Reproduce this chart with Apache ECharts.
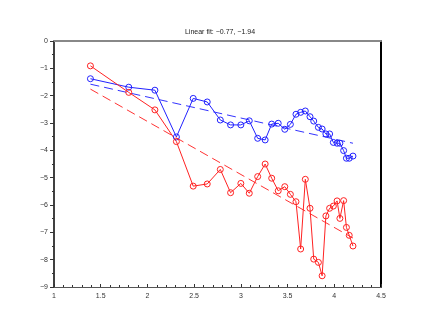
<!DOCTYPE html>
<html>
<head>
<meta charset="utf-8">
<script src="https://cdn.jsdelivr.net/npm/echarts@6/dist/echarts.min.js"></script>
<style>
  html, body { margin: 0; padding: 0; background: #fff; }
  #chart { width: 436px; height: 329px; }
</style>
</head>
<body>
<div id="chart"></div>
<script>
// Shared x values for both series
var xVals = [1.39, 1.80, 2.08, 2.31, 2.49, 2.64, 2.78, 2.89, 3.00, 3.09, 3.18, 3.26,
             3.33, 3.40, 3.47, 3.53, 3.59, 3.64, 3.69, 3.74, 3.78, 3.83, 3.87, 3.91,
             3.95, 3.99, 4.03, 4.06, 4.10, 4.13, 4.16, 4.20];
var blueVals = [-1.38, -1.69, -1.80, -3.51, -2.10, -2.23, -2.89, -3.07, -3.07, -2.92, -3.56, -3.62,
                -3.04, -3.01, -3.23, -3.05, -2.68, -2.61, -2.56, -2.77, -2.93, -3.16, -3.22, -3.40,
                -3.40, -3.71, -3.74, -3.74, -4.01, -4.29, -4.29, -4.21];
var redVals = [-0.91, -1.88, -2.52, -3.68, -5.31, -5.23, -4.70, -5.55, -5.21, -5.57, -4.96, -4.50,
               -5.02, -5.48, -5.33, -5.61, -5.88, -7.61, -5.06, -6.12, -7.98, -8.10, -8.59, -6.40,
               -6.12, -6.04, -5.85, -6.49, -5.84, -6.82, -7.11, -7.50];
// Fitted lines (endpoints)
var fitX = [1.39, 4.20];
var blueFit = [-1.58, -3.74];
var redFit = [-1.76, -7.21];
var titleText = 'Linear fit: \u22120.77, \u22121.94';

function pairs(xs, ys) {
    return xs.map(function (x, i) { return [x, ys[i]]; });
}

var chart = echarts.init(document.getElementById('chart'));

var labelStyle = { color: '#333', fontSize: 7, fontFamily: 'Liberation Sans' };

function lineSeries(ys, color) {
    return {
        type: 'line',
        data: pairs(xVals, ys),
        symbol: 'circle',
        symbolSize: 6,
        lineStyle: { color: color, width: 1 },
        itemStyle: { color: 'rgba(255,255,255,0)', borderColor: color, borderWidth: 1 },
        animation: false,
        z: 3
    };
}

function fitSeries(ys, color) {
    return {
        type: 'line',
        data: pairs(fitX, ys),
        symbol: 'none',
        lineStyle: { color: color, width: 1, type: [9, 5] },
        animation: false,
        z: 2
    };
}

chart.setOption({
    backgroundColor: '#fff',
    title: {
        text: titleText,
        left: 215,
        textAlign: 'center',
        top: 24,
        textStyle: { fontSize: 7, fontWeight: 'normal', color: '#222', fontFamily: 'Liberation Sans' }
    },
    grid: { left: 54, right: 55, top: 41, bottom: 42 },
    xAxis: [{
        type: 'value', min: 1, max: 4.5, interval: 0.5,
        axisLine: { show: true, onZero: false, lineStyle: { color: '#555', width: 1 } },
        axisTick: { show: true, inside: true, length: 3, lineStyle: { color: '#333' } },
        minorTick: { show: true, splitNumber: 5, length: 2, lineStyle: { color: '#333' } },
        axisLabel: Object.assign({ margin: 6 }, labelStyle),
        splitLine: { show: false }
    }, {
        type: 'value', position: 'top', min: 1, max: 4.5,
        axisLine: { show: true, onZero: false, lineStyle: { color: '#888', width: 2 } },
        axisTick: { show: false }, axisLabel: { show: false }, splitLine: { show: false }
    }],
    yAxis: [{
        type: 'value', min: -9, max: 0, interval: 1,
        axisLine: { show: true, onZero: false, lineStyle: { color: '#000', width: 1.5 } },
        axisTick: { show: true, length: 4, lineStyle: { color: '#333' } },
        minorTick: { show: true, splitNumber: 2, length: 2, lineStyle: { color: '#333' } },
        axisLabel: Object.assign({ margin: 6, formatter: function (v) { return String(v).replace('-', '\u2212'); } }, labelStyle),
        splitLine: { show: false }
    }, {
        type: 'value', position: 'right', min: -9, max: 0,
        axisLine: { show: true, onZero: false, lineStyle: { color: '#000', width: 2 } },
        axisTick: { show: false }, axisLabel: { show: false }, splitLine: { show: false }
    }],
    series: [
        lineSeries(blueVals, '#2222ff'),
        lineSeries(redVals, '#ff2222'),
        fitSeries(blueFit, '#3333ff'),
        fitSeries(redFit, '#ff3333')
    ]
});
</script>
</body>
</html>
